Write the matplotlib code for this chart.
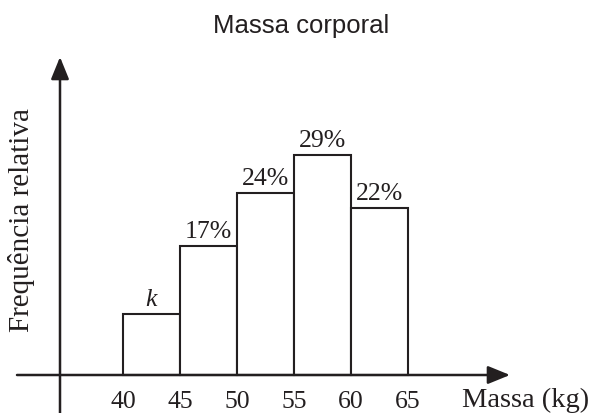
import matplotlib
matplotlib.use("Agg")
import matplotlib.pyplot as plt

plt.rcParams["mathtext.fontset"] = "custom"
plt.rcParams["mathtext.it"] = "Liberation Serif:italic"
plt.rcParams["mathtext.rm"] = "Liberation Serif"

# Data
bin_edges = [40, 45, 50, 55, 60, 65]
frequencies = [8, 17, 24, 29, 22]          # k = 100 - (17+24+29+22) = 8
bar_labels = ["$k$", "17%", "24%", "29%", "22%"]
tick_labels = ["40", "45", "50", "55", "60", "65"]
title = "Massa corporal"
xlabel = "Massa (kg)"
ylabel = "Frequência relativa"

W, H = 592, 414
fig = plt.figure(figsize=(W / 100, H / 100), dpi=100)
ax = fig.add_axes([0, 0, 1, 1])
ax.set_axis_off()

# pixel -> data mapping
px_per_kg = (408 - 123) / 25.0
px_per_pct = 7.57
x0 = bin_edges[0] - 123 / px_per_kg
x1 = bin_edges[0] + (W - 123) / px_per_kg
y0 = -(H - 376) / px_per_pct
y1 = 376 / px_per_pct
ax.set_xlim(x0, x1)
ax.set_ylim(y0, y1)

ink = "#231f20"
serif = "Liberation Serif"
lw_bar = 1.5
num_size = 18.5

widths = [b - a for a, b in zip(bin_edges[:-1], bin_edges[1:])]
ax.bar(bin_edges[:-1], frequencies, width=widths, align="edge",
       facecolor="white", edgecolor=ink, linewidth=lw_bar, zorder=3)

# axes arrows
arrow = dict(arrowstyle="-|>,head_length=1.35,head_width=0.55",
             color=ink, lw=1.8, shrinkA=0, shrinkB=0)
yaxis_x = bin_edges[0] - 63 / px_per_kg
ax.annotate("", xy=(bin_edges[0] + (510 - 123) / px_per_kg, 0),
            xytext=(bin_edges[0] - (123 - 17) / px_per_kg, 0),
            arrowprops=arrow, zorder=4)
ax.annotate("", xy=(yaxis_x, (376 - 58) / px_per_pct),
            xytext=(yaxis_x, y0), arrowprops=arrow, zorder=4)

# bar value labels
for left, w, f, lab in zip(bin_edges[:-1], widths, frequencies, bar_labels):
    ax.annotate(lab, xy=(left + w / 2, f), xytext=(0, 6.5), textcoords="offset points",
                ha="center", va="baseline", fontsize=num_size, family=serif, color=ink)

# tick labels
for e, t in zip(bin_edges, tick_labels):
    ax.annotate(t, xy=(e, 0), xytext=(0, -23), textcoords="offset points",
                ha="center", va="baseline", fontsize=num_size, family=serif, color=ink)

fig.text(462 / W, 1 - 407 / H, xlabel, ha="left", va="baseline",
         fontsize=20.5, family=serif, color=ink)
fig.text(22 / W, 1 - 220 / H, ylabel, ha="center", va="center", rotation=90,
         fontsize=21, family=serif, color=ink)
fig.text(301 / W, 1 - 33 / H, title, ha="center", va="baseline",
         fontsize=18.5, family="Liberation Sans", color=ink)

fig.savefig("out.png", dpi=100)
